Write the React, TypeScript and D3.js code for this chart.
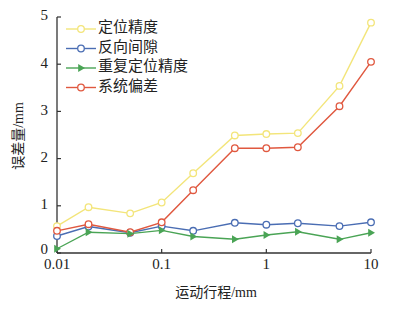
import React from "react";
import * as d3 from "d3";

const strokes = [0.01, 0.02, 0.05, 0.1, 0.2, 0.5, 1, 2, 5, 10];
const positioning = [0.57, 0.97, 0.84, 1.07, 1.69, 2.49, 2.52, 2.54, 3.54, 4.88];
const backlash = [0.36, 0.56, 0.43, 0.57, 0.47, 0.64, 0.6, 0.63, 0.57, 0.65];
const repeatability = [0.09, 0.44, 0.41, 0.48, 0.35, 0.29, 0.38, 0.45, 0.29, 0.43];
const systematic = [0.47, 0.61, 0.44, 0.65, 1.33, 2.22, 2.22, 2.24, 3.11, 4.05];
const seriesNames = ["定位精度", "反向间隙", "重复定位精度", "系统偏差"];
const xTicks = [0.01, 0.1, 1, 10];
const xTickLabels = ["0.01", "0.1", "1", "10"];
const yTicks = [0, 1, 2, 3, 4, 5];

const colors = ["#f3e57a", "#4a6db3", "#4aa455", "#e0583f"];
const font = "'Liberation Serif', 'Noto Sans CJK SC', serif";

export default function App() {
  const W = 403, H = 309;
  const x = d3.scaleLog().domain([0.01, 10]).range([57, 371]);
  const y = d3.scaleLinear().domain([0, 5]).range([253, 17]);
  const data = [positioning, backlash, repeatability, systematic];
  const line = d3.line<number>().x((_, i) => x(strokes[i])).y((v) => y(v));
  const order = [0, 1, 3, 2];
  const tri = (cx: number, cy: number, s: number) =>
    `M${cx - s * 0.7},${cy - s} L${cx + s},${cy} L${cx - s * 0.7},${cy + s} Z`;

  return (
    <svg width={W} height={H} style={{ position: "absolute", left: 0, top: 0, background: "#fff" }} fontFamily={font}>
      {/* axes */}
      <line x1={57} x2={57} y1={y(5)} y2={y(0)} stroke="#333" strokeWidth={1.3} />
      <line x1={57} x2={371} y1={y(0)} y2={y(0)} stroke="#333" strokeWidth={1.3} />
      {yTicks.map((t) => (
        <g key={"y" + t}>
          <line x1={57} x2={61} y1={y(t)} y2={y(t)} stroke="#333" strokeWidth={1.2} />
          <text x={48} y={y(t) - (t === 0 ? 2 : 0)} textAnchor="end" dominantBaseline="middle" fontSize={15} fill="#222">{t}</text>
        </g>
      ))}
      {xTicks.map((t, i) => (
        <g key={"x" + t}>
          <line x1={x(t)} x2={x(t)} y1={y(0)} y2={y(0) - 4} stroke="#333" strokeWidth={1.2} />
          <text x={x(t)} y={266} textAnchor="middle" dominantBaseline="middle" fontSize={15} fill="#222">{xTickLabels[i]}</text>
        </g>
      ))}
      <text x={216} y={294} textAnchor="middle" dominantBaseline="middle" fontSize={14} fill="#222">运动行程/mm</text>
      <text transform={`translate(20,136) rotate(-90)`} textAnchor="middle" dominantBaseline="middle" fontSize={14} fill="#222">误差量/mm</text>

      {/* series */}
      {order.map((si) => (
        <g key={"s" + si}>
          <path d={line(data[si]) || ""} fill="none" stroke={colors[si]} strokeWidth={1.4} />
          {data[si].map((v, i) =>
            si === 2 ? (
              <path key={i} d={tri(x(strokes[i]), y(v), 4)} fill={colors[si]} />
            ) : (
              <circle key={i} cx={x(strokes[i])} cy={y(v)} r={3.3} fill="#fff" stroke={colors[si]} strokeWidth={1.3} />
            )
          )}
        </g>
      ))}

      {/* legend */}
      {seriesNames.map((n, i) => {
        const ly = 29 + i * 19.5;
        return (
          <g key={"l" + i}>
            <line x1={66} x2={96} y1={ly} y2={ly} stroke={colors[i]} strokeWidth={1.4} />
            {i === 2 ? (
              <path d={tri(81, ly, 4)} fill={colors[i]} />
            ) : (
              <circle cx={81} cy={ly} r={3.3} fill="#fff" stroke={colors[i]} strokeWidth={1.3} />
            )}
            <text x={98} y={ly} dominantBaseline="middle" fontSize={15} fill="#222">{n}</text>
          </g>
        );
      })}
    </svg>
  );
}
